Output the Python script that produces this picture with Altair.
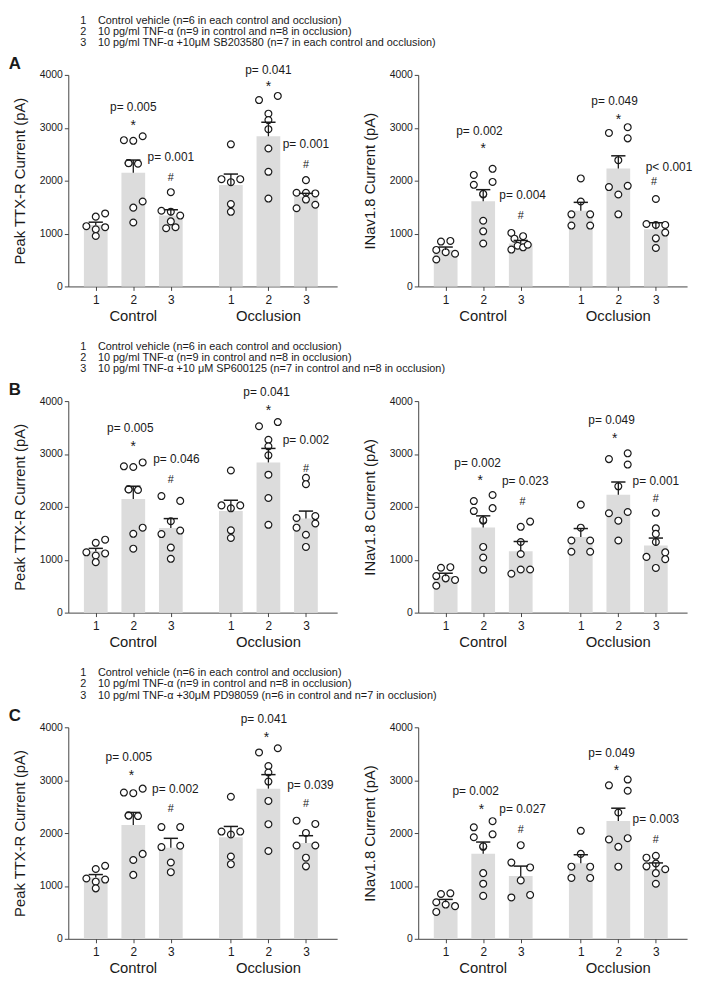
import altair as alt
import pandas as pd

FONT = "Liberation Sans"
INK = "#1a1a1a"
BAR = "#dcdcdc"

W = 272          # plot width of each panel
H = 214          # plot height of each panel
LINE = 11.5      # legend line spacing (px)

GROUPS = ["Control", "Occlusion"]
CONDS = [1, 2, 3]

# ---------- individual cells: (current pA, horizontal jitter in quarter-slot steps) ----------
# TTX-R current, vehicle (1) and TNF-alpha (2) groups are common to A, B, C
TTX_CTRL_1 = [(1140, -1), (1320, 0), (1380, 1), (1120, 1), (1080, 0), (954, 0)]
TTX_CTRL_2 = [(2766, -1), (2754, 0), (2840, 1), (2333, -0.5), (2321, 0.5), (1490, 0), (1606, 1), (1209, 0), (2330, -0.5)]
TTX_OCCL_1 = [(2687, 0), (2028, -1), (1972, 0), (2028, 1), (1557, 0), (1411, 0)]
TTX_OCCL_2 = [(3524, -1), (3603, 1), (3267, 0), (3145, 0), (2974, 0), (2608, 0), (2168, 0), (1661, 0)]
TTX_CTRL_3_A = [(1783, 0), (1431, -1), (1413, 0), (1340, 1), (1230, 0), (1100, -0.5), (1120, 0.5)]
TTX_OCCL_3_A = [(2010, 0), (1771, -1), (1771, 0), (1759, 1), (1643, 0), (1478, -1), (1545, 1)]
TTX_CTRL_3_B = [(2204, -1), (2113, 1), (1729, 0), (1485, -1), (1552, 1), (1230, 0), (1017, 0)]
TTX_OCCL_3_B = [(2551, 0), (2429, 0), (1790, -1), (1826, 1), (1607, -1), (1686, 1), (1473, 0), (1242, 0)]
TTX_CTRL_3_C = [(2113, -1), (2113, 1), (1735, -1), (1760, 1), (1443, 0), (1260, 0)]
TTX_OCCL_3_C = [(2234, -1), (2173, 1), (2003, 0), (1765, -1), (1765, 1), (1534, 0), (1370, 0)]

# INav1.8 current
NAV_CTRL_1 = [(509, -1), (691, -1), (648, 0), (848, -0.5), (860, 0.5), (618, 1)]
NAV_CTRL_2 = [(2109, -1), (2224, 1), (1921, -1), (1976, 1), (1739, 0), (1242, 0), (1042, 0), (812, 0), (1750, 0)]
NAV_OCCL_1 = [(2042, 0), (1606, 0), (1364, -1), (1364, 1), (1151, -1), (1151, 1)]
NAV_OCCL_2 = [(2903, -1), (3012, 1), (2800, 1), (2388, 0), (1879, -1), (1903, 1), (1739, 0), (1364, 0)]
NAV_CTRL_3_A = [(1012, -1), (951, 0.25), (903, -0.67), (697, -1), (770, -0.33), (739, 0.25), (788, 0.75)]
NAV_OCCL_3_A = [(1654, 0), (1181, -1), (1163, 0), (1163, 1), (1018, 1), (909, 0), (727, 0)]
NAV_CTRL_3_B = [(1623, 0), (1721, 1), (1335, 0), (1109, 0), (735, -1), (815, 0), (815, 1)]
NAV_OCCL_3_B = [(1887, 0), (1593, 0), (1489, 0), (1335, 0), (1054, -1), (1139, 1), (1011, 1), (845, 0)]
NAV_CTRL_3_C = [(1771, 0), (1441, -1), (1350, 1), (1105, 0), (782, -1), (830, 1)]
NAV_OCCL_3_C = [(1570, 0), (1534, -1), (1424, 0), (1370, -1), (1315, 1), (1242, 0), (1041, 0)]

# ---------- bar means and SEM, order: Control 1,2,3, Occlusion 1,2,3 ----------
TTX_MEAN_A = [1160, 2150, 1340, 1920, 2840, 1700]
TTX_SEM_A = [55, 240, 110, 205, 265, 60]
TTX_MEAN_B = [1160, 2150, 1600, 1920, 2840, 1780]
TTX_SEM_B = [55, 240, 178, 205, 265, 140]
TTX_MEAN_C = [1160, 2150, 1720, 1920, 2840, 1810]
TTX_SEM_C = [55, 240, 180, 205, 265, 140]
NAV_MEAN_A = [690, 1610, 810, 1430, 2230, 1080]
NAV_SEM_A = [55, 220, 60, 160, 240, 125]
NAV_MEAN_B = [690, 1610, 1160, 1430, 2230, 1270]
NAV_SEM_B = [55, 220, 185, 160, 240, 140]
NAV_MEAN_C = [690, 1610, 1190, 1430, 2230, 1320]
NAV_SEM_C = [55, 220, 185, 160, 240, 115]

# ---------- annotations: (group, condition, label, y in pA, x nudge in slots) ----------
ANN_TTX_A = [("Control", 2, "p= 0.005", 3400, 0), ("Control", 2, "*", 3115, 0),
             ("Control", 3, "p= 0.001", 2440, 0), ("Control", 3, "#", 2058, 0),
             ("Occlusion", 2, "p= 0.041", 4090, 0), ("Occlusion", 2, "*", 3850, 0),
             ("Occlusion", 3, "p= 0.001", 2687, 0), ("Occlusion", 3, "#", 2290, 0)]
ANN_NAV_A = [("Control", 2, "p= 0.002", 2933, -0.1), ("Control", 2, "*", 2667, 0),
             ("Control", 3, "p= 0.004", 1727, 0.05), ("Control", 3, "#", 1333, 0),
             ("Occlusion", 2, "p= 0.049", 3497, -0.1), ("Occlusion", 2, "*", 3224, 0),
             ("Occlusion", 3, "p< 0.001", 2254, 0.35), ("Occlusion", 3, "#", 1982, -0.05)]
ANN_TTX_B = [("Control", 2, "p= 0.005", 3494, -0.08), ("Control", 2, "*", 3208, 0),
             ("Control", 3, "p= 0.046", 2904, 0.15), ("Control", 3, "#", 2508, 0),
             ("Occlusion", 2, "p= 0.041", 4164, -0.05), ("Occlusion", 2, "*", 3896, 0),
             ("Occlusion", 3, "p= 0.002", 3269, 0), ("Occlusion", 3, "#", 2721, 0)]
ANN_NAV_B = [("Control", 2, "p= 0.002", 2836, -0.15), ("Control", 2, "*", 2561, -0.08),
             ("Control", 3, "p= 0.023", 2487, 0.12), ("Control", 3, "#", 2083, 0.05),
             ("Occlusion", 2, "p= 0.049", 3633, -0.18), ("Occlusion", 2, "*", 3357, -0.1),
             ("Occlusion", 3, "p= 0.001", 2487, 0), ("Occlusion", 3, "#", 2144, 0)]
ANN_TTX_C = [("Control", 2, "p= 0.005", 3433, -0.12), ("Control", 2, "*", 3160, -0.05),
             ("Control", 3, "p= 0.002", 2825, 0.12), ("Control", 3, "#", 2447, 0),
             ("Occlusion", 2, "p= 0.041", 4164, -0.12), ("Occlusion", 2, "*", 3866, -0.05),
             ("Occlusion", 3, "p= 0.039", 2916, 0.12), ("Occlusion", 3, "#", 2551, 0)]
ANN_NAV_C = [("Control", 2, "p= 0.002", 2797, -0.2), ("Control", 2, "*", 2510, -0.05),
             ("Control", 3, "p= 0.027", 2461, 0.05), ("Control", 3, "#", 2064, 0),
             ("Occlusion", 2, "p= 0.049", 3518, -0.18), ("Occlusion", 2, "*", 3243, -0.05),
             ("Occlusion", 3, "p= 0.003", 2266, 0), ("Occlusion", 3, "#", 1869, 0)]

# ---------- legend text ----------
LEG_1 = "Control vehicle (n=6 in each control and occlusion)"
LEG_2 = "10 pg/ml TNF-\u03b1 (n=9 in control and n=8 in occlusion)"
LEG_3_A = "10 pg/ml TNF-\u03b1 +10\u03bcM SB203580 (n=7 in each control and occlusion)"
LEG_3_B = "10 pg/ml TNF-\u03b1 +10 \u03bcM SP600125 (n=7 in control and n=8 in occlusion)"
LEG_3_C = "10 pg/ml TNF-\u03b1 +30\u03bcM PD98059 (n=6 in control and n=7 in occlusion)"

TTX_TITLE = "Peak TTX-R Current (pA)"
NAV_TITLE = "INav1.8 Current (pA)"
Y_TICKS = [0, 1000, 2000, 3000, 4000]


def points_df(lists):
    rows = []
    for k, lst in enumerate(lists):
        for v, j in lst:
            rows.append({"group": GROUPS[k // 3], "cond": CONDS[k % 3], "value": v, "jit": j})
    return pd.DataFrame(rows)


def means_df(means, sems):
    return pd.DataFrame({"group": [GROUPS[k // 3] for k in range(6)],
                         "cond": [CONDS[k % 3] for k in range(6)],
                         "mean": means, "sem": sems})


def ann_df(ann):
    return pd.DataFrame(ann, columns=["group", "cond", "label", "y", "xo"])


POS = "datum.cond + (datum.group == 'Occlusion' ? 3.6 : 0)"
XS = alt.Scale(domain=[0.4, 7.3], nice=False, zero=False)
YS = alt.Scale(domain=[0, 4000], nice=False)
XAX = alt.Axis(values=[1, 2, 3, 4.6, 5.6, 6.6], title=None, grid=False,
               labelExpr="datum.value < 4 ? format(datum.value, 'd') : format(datum.value - 3.6, '.0f')",
               tickSize=4, labelFontSize=12, labelPadding=4, labelColor=INK,
               domainColor="#444", tickColor="#444", labelFont=FONT)


def yax(title):
    return alt.Axis(values=Y_TICKS, format="d", title=title, grid=False, tickSize=4,
                    labelFontSize=10.5, labelPadding=2, titleFontSize=15,
                    titleFontWeight="normal", titlePadding=12,
                    labelColor=INK, titleColor=INK, domainColor="#444", tickColor="#444",
                    labelFont=FONT, titleFont=FONT)


def panel(pts, mns, ann, title):
    xe = lambda f: alt.X(f"{f}:Q", scale=XS, axis=XAX)
    ye = lambda f: alt.Y(f"{f}:Q", scale=YS, axis=yax(title))

    bars = alt.Chart(mns).transform_calculate(pos=POS).mark_bar(size=24, color=BAR).encode(
        x=xe("pos"), y=ye("mean"))
    dots = alt.Chart(pts).transform_calculate(pos=POS).transform_calculate(
        xj="datum.pos + datum.jit * 0.25").mark_point(
        shape="circle", size=48, fill="white", fillOpacity=1, stroke=INK, strokeWidth=1.2,
        opacity=1).encode(x=xe("xj"), y=ye("value"))
    err = alt.Chart(mns).transform_calculate(pos=POS).transform_calculate(
        top="datum.mean + datum.sem").mark_rule(color=INK, strokeWidth=1.3).encode(
        x=xe("pos"), y=ye("mean"), y2="top:Q")
    cap = alt.Chart(mns).transform_calculate(pos=POS).transform_calculate(
        top="datum.mean + datum.sem", l="datum.pos - 0.19", r="datum.pos + 0.19").mark_rule(
        color=INK, strokeWidth=1.5).encode(x=xe("l"), x2="r:Q", y=ye("top"))
    annb = alt.Chart(ann).transform_calculate(pos=POS).transform_calculate(
        xa="datum.pos + datum.xo")
    ptxt = annb.transform_filter("datum.label != '*' && datum.label != '#'").mark_text(
        fontSize=12, color=INK, font=FONT).encode(x=xe("xa"), y=ye("y"), text="label:N")
    star = annb.transform_filter("datum.label == '*'").mark_text(
        fontSize=14, dy=4, color=INK, font=FONT).encode(x=xe("xa"), y=ye("y"), text="label:N")
    hsh = annb.transform_filter("datum.label == '#'").mark_text(
        fontSize=11, color=INK, font=FONT).encode(x=xe("xa"), y=ye("y"), text="label:N")
    glab = alt.Chart(pd.DataFrame({"group": GROUPS})).transform_calculate(
        gx="datum.group == 'Control' ? 2 : 5.6").mark_text(
        fontSize=15, color=INK, font=FONT).encode(x=xe("gx"), y=alt.value(H + 30), text="group:N")
    return alt.layer(bars, dots, err, cap, ptxt, star, hsh, glab).properties(width=W, height=H)


def legend(line3, letter, h):
    df = pd.DataFrame({"line": [1, 2, 3], "num": ["1", "2", "3"], "text": [LEG_1, LEG_2, line3]})
    hi = 3 + 12 / LINE
    ys = alt.Scale(domain=[hi - h / LINE, hi], reverse=True, nice=False, zero=False)
    nums = alt.Chart(df).mark_text(align="left", fontSize=11, color=INK, font=FONT).encode(
        x=alt.value(12), y=alt.Y("line:Q", scale=ys, axis=None), text="num:N")
    txt = alt.Chart(df).mark_text(align="left", fontSize=11, color=INK, font=FONT).encode(
        x=alt.value(30), y=alt.Y("line:Q", scale=ys, axis=None), text="text:N")
    let = alt.Chart(pd.DataFrame({"letter": [letter]})).mark_text(
        align="center", fontSize=17, fontWeight="bold", color=INK, font=FONT).encode(
        x=alt.value(-54), y=alt.value(h + 9), text="letter:N")
    return alt.layer(nums, txt, let).properties(width=W, height=h)


def blank(h):
    return alt.Chart(pd.DataFrame({"t": [""]})).mark_text().encode(
        x=alt.value(0), y=alt.value(h), text="t:N").properties(width=W, height=h)


def panels(ttx3c, ttx3o, ttxm, ttxs, tann, nav3c, nav3o, navm, navs, nann):
    left = panel(points_df([TTX_CTRL_1, TTX_CTRL_2, ttx3c, TTX_OCCL_1, TTX_OCCL_2, ttx3o]),
                 means_df(ttxm, ttxs), ann_df(tann), TTX_TITLE)
    right = panel(points_df([NAV_CTRL_1, NAV_CTRL_2, nav3c, NAV_OCCL_1, NAV_OCCL_2, nav3o]),
                  means_df(navm, navs), ann_df(nann), NAV_TITLE)
    return [left, right]


pA = panels(TTX_CTRL_3_A, TTX_OCCL_3_A, TTX_MEAN_A, TTX_SEM_A, ANN_TTX_A,
            NAV_CTRL_3_A, NAV_OCCL_3_A, NAV_MEAN_A, NAV_SEM_A, ANN_NAV_A)
pB = panels(TTX_CTRL_3_B, TTX_OCCL_3_B, TTX_MEAN_B, TTX_SEM_B, ANN_TTX_B,
            NAV_CTRL_3_B, NAV_OCCL_3_B, NAV_MEAN_B, NAV_SEM_B, ANN_NAV_B)
pC = panels(TTX_CTRL_3_C, TTX_OCCL_3_C, TTX_MEAN_C, TTX_SEM_C, ANN_TTX_C,
            NAV_CTRL_3_C, NAV_OCCL_3_C, NAV_MEAN_C, NAV_SEM_C, ANN_NAV_C)

items = ([legend(LEG_3_A, "A", 26), blank(26)] + pA
         + [legend(LEG_3_B, "B", 76), blank(76)] + pB
         + [legend(LEG_3_C, "C", 76), blank(76)] + pC)

chart = alt.concat(*items, columns=2, spacing={"row": 20, "column": 82}, bounds="flush"
                   ).properties(padding=0).configure(font=FONT).configure_view(stroke=None)

chart.save("out.html", embed_options={"renderer": "svg", "actions": False})
